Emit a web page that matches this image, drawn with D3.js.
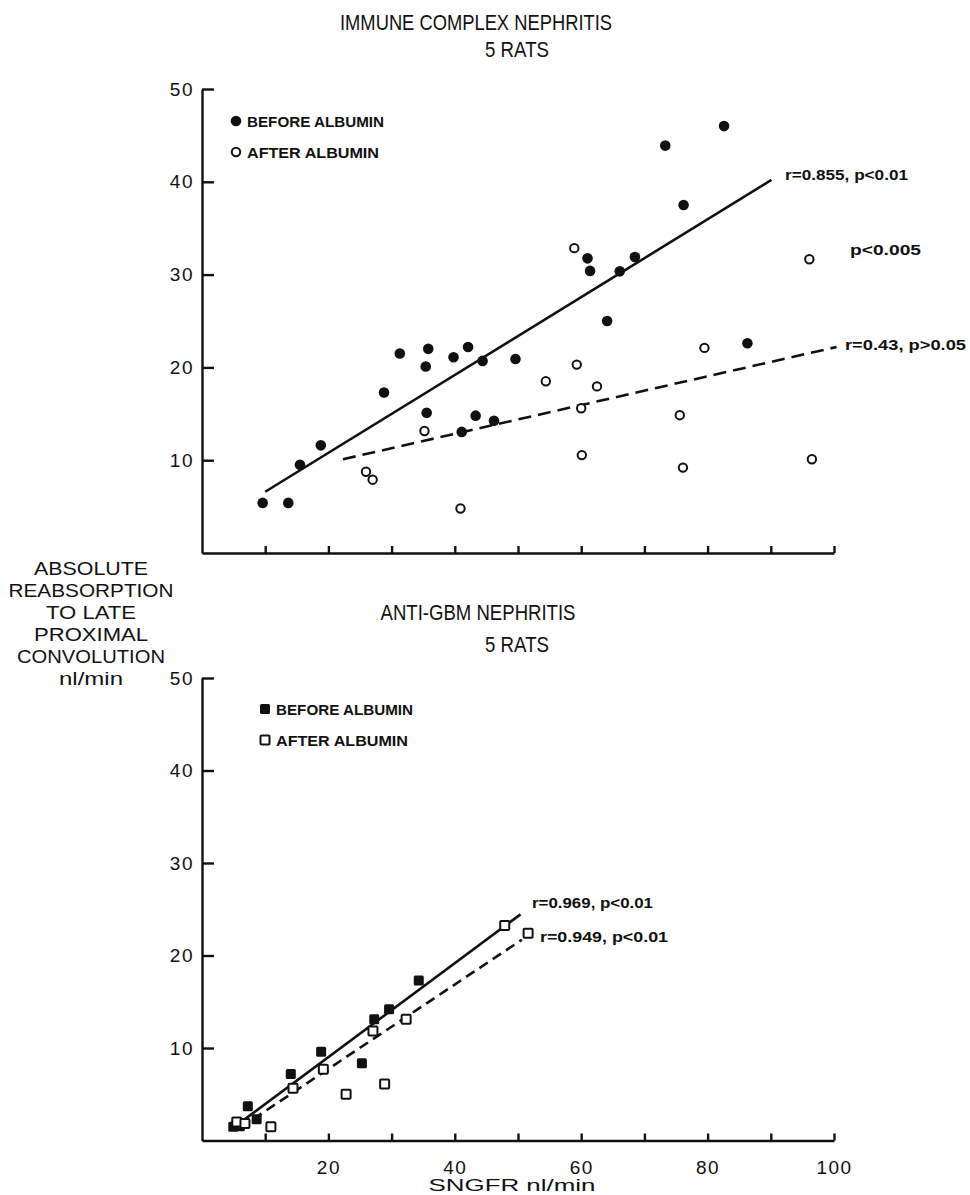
<!DOCTYPE html>
<html>
<head>
<meta charset="utf-8">
<script src="https://cdn.jsdelivr.net/npm/d3@7"></script>
<style>
  body { margin: 0; background: #fff; }
  svg { display: block; font-family: "Liberation Sans", Arial, sans-serif; }
</style>
</head>
<body>
<svg id="chart" width="970" height="1195"></svg>
<script>
// immune complex nephritis, [SNGFR, reabsorption]
const icBefore = [
  [9.6, 5.4], [13.65, 5.4], [15.5, 9.5], [18.8, 11.6], [28.8, 17.3],
  [31.3, 21.5], [35.4, 20.1], [35.8, 22.0], [35.55, 15.1], [39.8, 21.1],
  [42.1, 22.2], [44.4, 20.7], [43.3, 14.8], [41.1, 13.05], [46.2, 14.25],
  [49.6, 20.9], [61.0, 31.75], [61.4, 30.4], [64.1, 25.0], [66.1, 30.35],
  [68.5, 31.9], [73.3, 43.9], [82.6, 46.0], [76.2, 37.5], [86.3, 22.6]
]
const icAfter = [
  [35.2, 13.15], [25.95, 8.75], [27.0, 7.9], [40.9, 4.8], [54.4, 18.5],
  [58.9, 32.85], [59.3, 20.3], [62.5, 17.95], [60.0, 15.6], [60.1, 10.55],
  [75.6, 14.85], [76.1, 9.2], [79.5, 22.1], [96.1, 31.65], [96.5, 10.1]
]
const icFitBefore = [[10.0, 6.6], [90.1, 40.2]]
const icFitAfter = [[22.3, 10.1], [100.4, 22.2]]

// anti-GBM nephritis
const gbmBefore = [
  [4.95, 1.5], [6.0, 1.55], [7.25, 3.7], [8.65, 2.3], [14.05, 7.2],
  [18.85, 9.6], [25.3, 8.35], [27.25, 13.1], [29.6, 14.2], [34.3, 17.3]
]
const gbmAfter = [
  [5.5, 2.0], [6.8, 1.85], [10.9, 1.5], [14.4, 5.65], [19.2, 7.7],
  [22.8, 5.0], [27.05, 11.85], [28.9, 6.1], [32.3, 13.1], [47.9, 23.25],
  [51.6, 22.4]
]
const gbmFitBefore = [[5.2, 1.5], [50.4, 24.45]]
const gbmFitAfter = [[6.0, 1.35], [50.6, 21.7]]

const xTicks = [10, 20, 30, 40, 50, 60, 70, 80, 90, 100]
const xLabels = [20, 40, 60, 80, 100]
const yTicks = [10, 20, 30, 40, 50]
const yTitle = ['ABSOLUTE', 'REABSORPTION', 'TO LATE', 'PROXIMAL', 'CONVOLUTION', 'nl/min']

const svg = d3.select('#chart')

function text (g, str, x, y, size, width, opts = {}) {
  const t = g.append('text')
    .attr('x', x)
    .attr('y', y)
    .attr('font-size', size)
    .attr('font-weight', opts.bold ? 'bold' : 'normal')
    .attr('text-anchor', opts.anchor || 'start')
    .attr('fill', '#111')
    .text(str)
  if (width) t.attr('textLength', width).attr('lengthAdjust', 'spacingAndGlyphs')
  return t
}

function panel (cfg) {
  const x = d3.scaleLinear().domain([0, 100]).range([202, 834])
  const y = d3.scaleLinear().domain([0, 50]).range(cfg.yRange)
  const g = svg.append('g')

  const yAxis = d3.axisLeft(y)
    .tickValues(yTicks)
    .tickSizeInner(-12)
    .tickSizeOuter(0)
    .tickPadding(8)
  const gy = g.append('g').attr('transform', 'translate(202,0)').call(yAxis)

  const xAxis = d3.axisBottom(x)
    .tickValues(xTicks)
    .tickSizeInner(-7)
    .tickSizeOuter(0)
    .tickPadding(20)
    .tickFormat(d => (cfg.xLabels && xLabels.includes(d)) ? d : '')
  const gx = g.append('g').attr('transform', `translate(0,${y(0)})`).call(xAxis)

  ;[gx, gy].forEach(a => {
    a.selectAll('path, line').attr('stroke', '#111').attr('stroke-width', 2.4)
    a.selectAll('text')
      .attr('font-size', 19)
      .attr('letter-spacing', 1.5)
      .attr('fill', '#111')
      .attr('font-family', '"Liberation Sans", Arial, sans-serif')
  })
  gx.selectAll('text').attr('dy', '0.71em')

  const line = d3.line().x(d => x(d[0])).y(d => y(d[1]))
  g.append('path').attr('d', line(cfg.fitBefore))
    .attr('fill', 'none').attr('stroke', '#111').attr('stroke-width', 2.6)
  g.append('path').attr('d', line(cfg.fitAfter))
    .attr('fill', 'none').attr('stroke', '#111').attr('stroke-width', 2.6)
    .attr('stroke-dasharray', cfg.dash)

  if (cfg.shape === 'circle') {
    g.selectAll('.before').data(cfg.before).join('circle')
      .attr('cx', d => x(d[0])).attr('cy', d => y(d[1])).attr('r', 5.3)
      .attr('fill', '#111')
    g.selectAll('.after').data(cfg.after).join('circle')
      .attr('cx', d => x(d[0])).attr('cy', d => y(d[1])).attr('r', 4.2)
      .attr('fill', '#fff').attr('stroke', '#111').attr('stroke-width', 2)
  } else {
    g.selectAll('.before').data(cfg.before).join('rect')
      .attr('x', d => x(d[0]) - 5).attr('y', d => y(d[1]) - 5)
      .attr('width', 10).attr('height', 10).attr('rx', 1.5)
      .attr('fill', '#111')
    g.selectAll('.after').data(cfg.after).join('rect')
      .attr('x', d => x(d[0]) - 4.5).attr('y', d => y(d[1]) - 4.5)
      .attr('width', 9).attr('height', 9).attr('rx', 1)
      .attr('fill', '#fff').attr('stroke', '#111').attr('stroke-width', 2)
  }

  // titles
  text(g, cfg.title, cfg.titleX, cfg.titleY, 22, cfg.titleW, { anchor: 'middle' })
  text(g, '5 RATS', 517, cfg.titleY + cfg.ratsGap, 22, 64, { anchor: 'middle' })

  // legend
  const lg = g.append('g').attr('transform', `translate(${cfg.legend[0]},${cfg.legend[1]})`)
  if (cfg.shape === 'circle') {
    lg.append('circle').attr('cx', 0).attr('cy', 0).attr('r', 5.3).attr('fill', '#111')
    lg.append('circle').attr('cx', 0).attr('cy', 31).attr('r', 4.2)
      .attr('fill', '#fff').attr('stroke', '#111').attr('stroke-width', 2)
  } else {
    lg.append('rect').attr('x', -5).attr('y', -5).attr('width', 10).attr('height', 10).attr('rx', 1.5).attr('fill', '#111')
    lg.append('rect').attr('x', -4.5).attr('y', 26.5).attr('width', 9).attr('height', 9).attr('rx', 1)
      .attr('fill', '#fff').attr('stroke', '#111').attr('stroke-width', 2)
  }
  text(lg, 'BEFORE ALBUMIN', 11, 5.5, 14.5, 137, { bold: true })
  text(lg, 'AFTER ALBUMIN', 11, 36.5, 14.5, 132, { bold: true })

  cfg.notes.forEach(n => text(g, n.t, n.x, n.y, 14, n.w, { bold: true }))
  return { x, y }
}

panel({
  yRange: [553, 89],
  before: icBefore,
  after: icAfter,
  fitBefore: icFitBefore,
  fitAfter: icFitAfter,
  shape: 'circle',
  dash: '13,7',
  xLabels: false,
  title: 'IMMUNE COMPLEX NEPHRITIS',
  titleX: 476,
  titleY: 30,
  ratsGap: 27,
  titleW: 272,
  legend: [236, 121],
  notes: [
    { t: 'r=0.855, p<0.01', x: 785, y: 180, w: 123 },
    { t: 'p<0.005', x: 850, y: 255, w: 71 },
    { t: 'r=0.43, p>0.05', x: 845, y: 350, w: 121 }
  ]
})

panel({
  yRange: [1140.5, 678],
  before: gbmBefore,
  after: gbmAfter,
  fitBefore: gbmFitBefore,
  fitAfter: gbmFitAfter,
  shape: 'square',
  dash: '10,6',
  xLabels: true,
  title: 'ANTI-GBM NEPHRITIS',
  titleX: 478,
  titleY: 620,
  ratsGap: 32,
  titleW: 195,
  legend: [265, 709],
  notes: [
    { t: 'r=0.969, p<0.01', x: 532, y: 908, w: 121 },
    { t: 'r=0.949, p<0.01', x: 540, y: 942, w: 128 }
  ]
})

// shared y-axis title
const yt = svg.append('g')
yTitle.forEach((s, i) => {
  const w = { ABSOLUTE: 114, REABSORPTION: 165, 'TO LATE': 90, PROXIMAL: 114, CONVOLUTION: 148, 'nl/min': 64 }[s]
  text(yt, s, 91, 575 + i * 22, 18, w, { anchor: 'middle' })
})

// x-axis title
text(svg, 'SNGFR nl/min', 512, 1191, 16.5, 167, { anchor: 'middle' })
</script>
</body>
</html>
